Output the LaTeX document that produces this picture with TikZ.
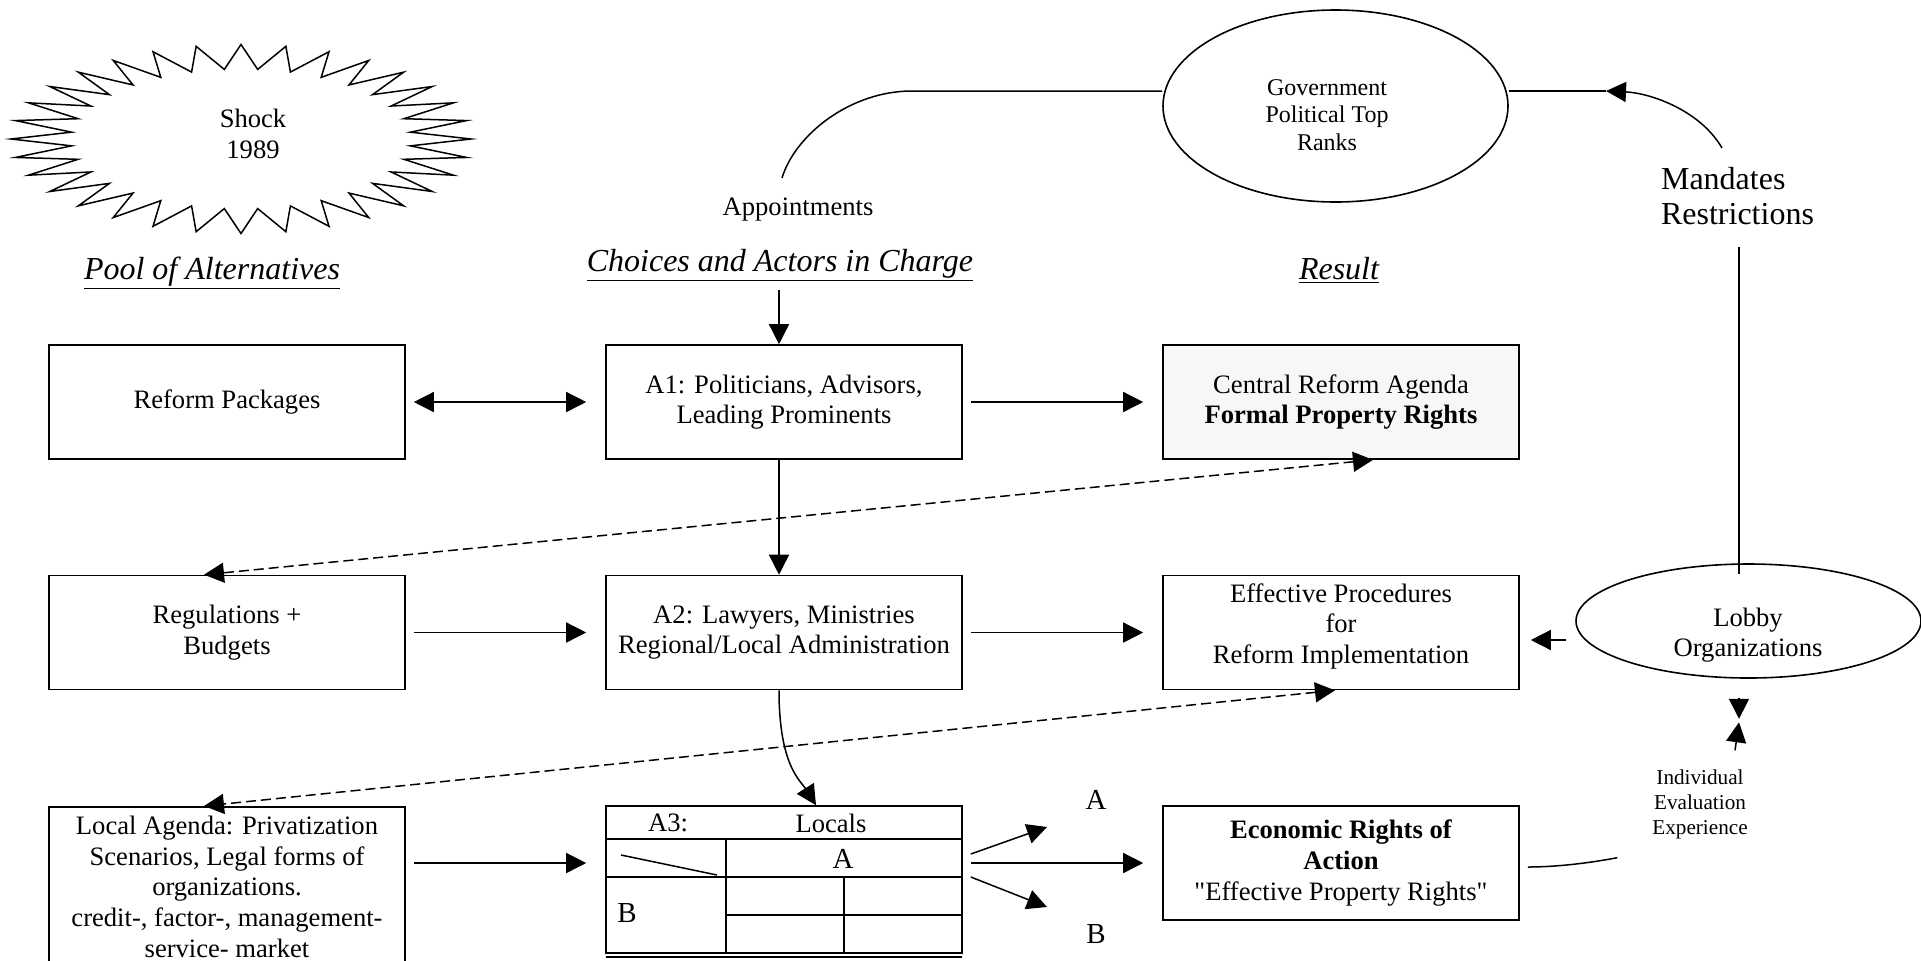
\documentclass[tikz,border=0pt]{standalone}
\usepackage{fontspec}
\setmainfont{Liberation Serif}
\usetikzlibrary{arrows.meta,calc,shapes.geometric}

\newcommand\txtbody{\fontsize{13.3}{15.3}\selectfont}
\newcommand\txthead{\fontsize{16}{18.5}\selectfont\itshape}
\newcommand\txtsmall{\fontsize{10.6}{12.5}\selectfont}

\tikzset{
  >={Triangle[length=10pt,width=10pt]},
  box/.style={draw, line width=0.8pt, minimum width=178pt, minimum height=57pt,
    align=center, font=\txtbody},
  oval/.style={draw, ellipse, line width=0.8pt, inner sep=0pt},
  head/.style={font=\txthead, anchor=base},
  link/.style={line width=0.75pt},
  flow/.style={->, line width=0.75pt, shorten <=4pt, shorten >=9.5pt},
  dashlink/.style={<->, line width=0.75pt, dash pattern=on 5pt off 2.5pt},
}

\begin{document}
\begin{tikzpicture}[x=0.5pt,y=-0.5pt]
    \useasboundingbox (0,0) rectangle (1921,960); % page size of the reference
    % shock star
    \draw[link] (471,139) \foreach \i [evaluate=\i as \r using {1-0.26*mod(\i,2)}] in {1,...,63}
        {-- ({241+230*\r*cos(\i*5.625)},{139+94.5*\r*sin(\i*5.625)})} -- cycle;
    \node[font=\txtbody, align=center] (shock) at (253,134) {Shock\\1989};

    % column titles
    \node[head] (pool) at (212,279) {\underline{Pool of Alternatives}};
    \node[head] (choices) at (780,271) {\underline{Choices and Actors in Charge}};
    \node[head] (result) at (1339,279) {\underline{Result}};
    \node[font=\txtbody] (appt) at (798,210) {Appointments};
    \node[font=\fontsize{16}{17.5}\selectfont, align=left, anchor=west] (mand) at (1654,196) {Mandates\\Restrictions};

    % ovals
    \node[oval, minimum width=172.5pt, minimum height=96pt] (gov) at (1335.5,106) {};
    \node[font=\fontsize{12}{13.8}\selectfont, align=center] (govtxt) at (1327,115) {Government\\Political Top\\Ranks};
    \node[oval, minimum width=172.5pt, minimum height=57pt] (lobby) at (1748.5,621) {};
    \node[font=\txtbody, align=center] (lobbytxt) at (1748,635) {Lobby\\Organizations};
    \node[font=\txtsmall, align=center] (ind) at (1700,804) {Individual\\Evaluation\\Experience};

    % boxes
    \node[box] (reform) at (227,402) {Reform Packages};
    \node[box] (a1) at (784,402) {A1: Politicians, Advisors,\\Leading Prominents};
    \node[box, fill=black!3] (central) at (1341,402) {Central Reform Agenda\\\textbf{Formal Property Rights}};
    \node[box] (regs) at (227,632.5) {Regulations +\\Budgets};
    \node[box] (a2) at (784,632.5) {A2: Lawyers, Ministries\\Regional/Local Administration};
    \node[box, text depth=9pt] (eff) at (1341,632.5) {Effective Procedures\\for\\Reform Implementation};
    \node[box, anchor=north, minimum height=80pt] (local) at (227,806) {Local Agenda: Privatization\\Scenarios, Legal forms of\\organizations.\\credit-, factor-, management-\\service- market};
    \node[box] (econ) at (1341,863) {\textbf{Economic Rights of}\\\textbf{Action}\\{\addfontfeatures{Ligatures=TeXOff}"Effective Property Rights"}};

    % A3 table
    \node[box, minimum height=73.5pt] (a3) at (784,879.5) {};
    \draw[link] (606,839) -- (962,839) (606,877) -- (962,877) (726,915) -- (962,915);
    \draw[link] (726,839) -- (726,953) (844,877) -- (844,953) (606,957) -- (962,957);
    \draw[link] (621,855) -- (717,875);
    \node[font=\txtbody] (a3t) at (668,823) {A3:};
    \node[font=\txtbody] (a3l) at (831,823) {Locals};
    \node[font=\fontsize{14.5}{16}\selectfont] (cola) at (843,859) {A};
    \node[font=\fontsize{14.5}{16}\selectfont] (rowb) at (627,913) {B};
    \node[font=\fontsize{14.5}{16}\selectfont] (la) at (1096,800) {A};
    \node[font=\fontsize{14.5}{16}\selectfont] (lb) at (1096,934) {B};

    % connectors
    \coordinate (appbend) at (912,91);
    \coordinate (append) at (782,178);
    \coordinate (mtip) at (1606,91);
    \coordinate (mstart) at (1722,148);
    \coordinate (mbot) at (1739,247);
    \coordinate (upend) at (1047,827);
    \coordinate (lowend) at (1047,907);
    \draw[link] (gov.west |- appbend) -- (appbend) .. controls (850,91) and (795,135) .. (append);
    \draw[link] (gov.east |- mtip) -- (mtip);
    \draw[link, ->] (mstart) .. controls (1700,110) and (1650,93) .. (mtip);
    \draw[link] (mbot) -- ($(mbot |- lobby.north)+(0,11)$);
    \draw[link, ->] ($(a1.north)+(-5,-54)$) -- ($(a1.north)+(-5,0)$);
    \draw[flow, <->] (reform) -- (a1);
    \draw[flow] (a1) -- (central);
    \draw[link, ->] ($(a1.south)+(-5,0)$) -- ($(a2.north)+(-5,0)$);
    \draw[flow] (regs) -- (a2);
    \draw[flow] (a2) -- (eff.west |- a2);
    \draw[link, ->] ($(lobby.west)+(-9,19)$) -- ($(eff.east |- lobby.west)+(11,19)$);
    \draw[link, ->] ($(a2.south)+(-5,0)$) .. controls (779,765) and (800,780) .. ($(a3.north)+(32,0)$);
    \draw[flow] (local.east |- econ.west) -- (a3.west |- econ.west);
    \draw[flow] (a3.east |- econ.west) -- (econ.west);
    \draw[link, ->] ($(a3.east)+(8,-25.5)$) -- (upend);
    \draw[link, ->] ($(a3.east)+(8,-2.5)$) -- (lowend);
    \draw[dashlink] ($(central.south)+(32,0)$) -- ($(regs.north)+(-23,0)$);
    \draw[dashlink] ($(eff.south)+(-6,0)$) -- ($(local.north)+(-23,0)$);
    \draw[link] ($(econ.east)+(8,4)$) .. controls (1560,867) and (1595,862) .. ($(ind.south west)+(-28,12)$);
    \draw[link, ->] ($(lobby.south)+(-9.5,19)$) -- ++(0,21);
    \draw[link, ->] ($(ind.north)+(35,-12)$) -- ($(ind.north)+(39,-40)$);
\end{tikzpicture}
\end{document}
